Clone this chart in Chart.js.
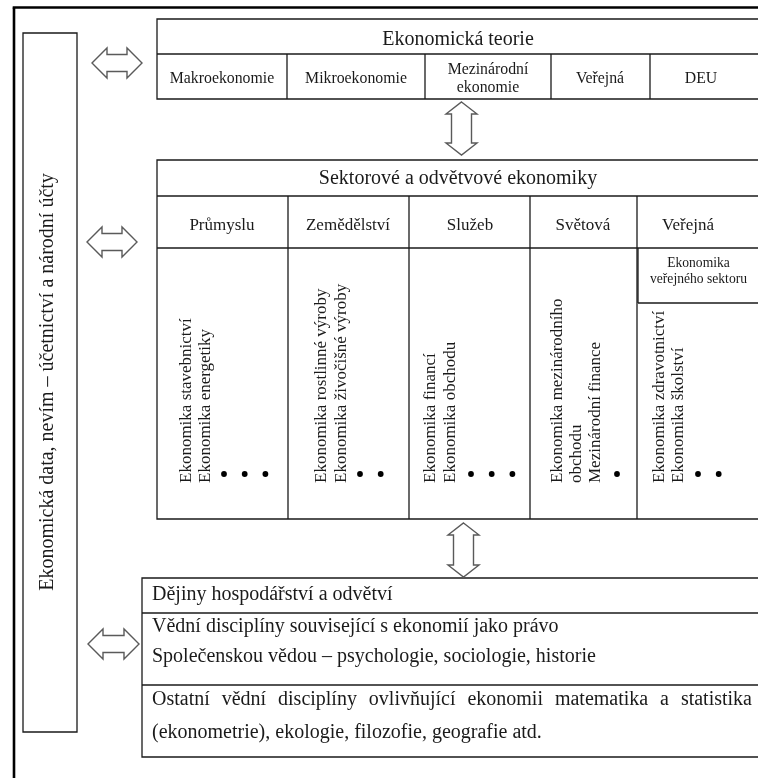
<!DOCTYPE html>
<html><head><meta charset="utf-8">
<script src="https://cdn.jsdelivr.net/npm/chart.js@4"></script>
<style>html,body{margin:0;padding:0;background:#fff;overflow:hidden}#c{display:block}</style>
</head><body>
<canvas id="c" width="758" height="778"></canvas>
<script>
// ---------- content (data) ----------
const leftLabel = "Ekonomická data, nevím – účetnictví a národní účty";
const theoryTitle = "Ekonomická teorie";
const theoryFields = [["Makroekonomie"], ["Mikroekonomie"], ["Mezinárodní", "ekonomie"], ["Veřejná"], ["DEU"]];
const sectorTitle = "Sektorové a odvětvové ekonomiky";
const sectorFields = ["Průmyslu", "Zemědělství", "Služeb", "Světová", "Veřejná"];
const sectorItems = [
  ["Ekonomika stavebnictví", "Ekonomika energetiky"],
  ["Ekonomika rostlinné výroby", "Ekonomika živočišné výroby"],
  ["Ekonomika financí", "Ekonomika obchodu"],
  ["Ekonomika mezinárodního", "obchodu", "Mezinárodní finance"],
  ["Ekonomika zdravotnictví", "Ekonomika školství"]
];
const sectorMoreDots = [3, 2, 3, 1, 2];
const publicSubBox = ["Ekonomika", "veřejného sektoru"];
const relatedRows = [
  ["Dějiny hospodářství a odvětví"],
  ["Vědní disciplíny související s ekonomií jako právo", "Společenskou vědou – psychologie, sociologie, historie"],
  ["Ostatní vědní disciplíny ovlivňující ekonomii matematika a statistika", "(ekonometrie), ekologie, filozofie, geografie atd."]
];
const justifiedLines = ["Ostatní vědní disciplíny ovlivňující ekonomii matematika a statistika"];

// ---------- layout (positions in diagram units) ----------
const LAYOUT = {
  frame: { x: 14, y: 7.5 },
  leftBox: { x: 23, y: 33, r: 77, b: 732, baseX: 52.5, midY: 382 },
  theory: { x: 157, y: 19, r: 765, titleB: 54, b: 99, titleBase: 45,
            cols: [157, 287, 425, 551, 650], labelX: [222, 356, 488, 600, 701],
            labelBase: [[83.3], [83.3], [73.5, 91.5], [83.3], [83.3]] },
  sector: { x: 157, y: 160, r: 765, titleB: 196, headB: 248, b: 519, titleBase: 183.5,
            cols: [157, 288, 409, 530, 637], labelX: [222, 348, 470, 583, 688], labelBase: 229.5,
            itemBase: [[190.5, 210], [326, 346], [435, 455], [562, 581, 600], [664, 683]], itemStart: 483,
            dotX0: [224, 360, 471, 617, 698], dotStep: 20.7, dotY: 474 },
  sub: { x: 638, y: 248, r: 765, b: 303, cx: 698.5, base: [266.5, 283] },
  related: { x: 142, y: 578, r: 765, b: 757, dividers: [613, 685], textX: 152, justifyR: 752,
             base: [[599.5], [632, 661.5], [705, 737.5]] },
  hArrows: [{ x1: 92, x2: 142, cy: 63 }, { x1: 87, x2: 137, cy: 242 }, { x1: 88, x2: 139, cy: 644 }],
  vArrows: [{ cx: 461.5, y1: 102, y2: 155 }, { cx: 463.5, y1: 523, y2: 577 }]
};
const SERIF = '"Liberation Serif", "Times New Roman", serif';
const INK = '#1a1a1a';

// bullet points built from content counts + layout
const dotPoints = [];
sectorMoreDots.forEach((n, c) => {
  for (let i = 0; i < n; i++) dotPoints.push({ x: LAYOUT.sector.dotX0[c] + i * LAYOUT.sector.dotStep, y: LAYOUT.sector.dotY });
});

const diagramPlugin = {
  id: 'diagram',
  beforeDatasetsDraw(chart) {
    const ctx = chart.ctx;
    const xs = chart.scales.x, ys = chart.scales.y;
    const px = v => xs.getPixelForValue(v), py = v => ys.getPixelForValue(v);
    const line = (x1, y1, x2, y2, w, col) => {
      ctx.beginPath(); ctx.lineWidth = w; ctx.strokeStyle = col || INK;
      ctx.moveTo(px(x1), py(y1)); ctx.lineTo(px(x2), py(y2)); ctx.stroke();
    };
    const rect = (x, y, r, b, w) => {
      ctx.beginPath(); ctx.lineWidth = w; ctx.strokeStyle = INK;
      ctx.rect(px(x), py(y), px(r) - px(x), py(b) - py(y)); ctx.stroke();
    };
    const text = (t, x, y, size, align) => {
      ctx.font = size + 'px ' + SERIF; ctx.fillStyle = INK;
      ctx.textAlign = align || 'center'; ctx.textBaseline = 'alphabetic';
      ctx.fillText(t, px(x), py(y));
    };
    const vtext = (t, x, y, size, align) => {
      ctx.save(); ctx.translate(px(x), py(y)); ctx.rotate(-Math.PI / 2);
      ctx.font = size + 'px ' + SERIF; ctx.fillStyle = INK;
      ctx.textAlign = align; ctx.textBaseline = 'alphabetic';
      ctx.fillText(t, 0, 0); ctx.restore();
    };
    ctx.save();
    // outer frame
    const F = LAYOUT.frame;
    line(F.x, F.y, F.x, 800, 2.6, '#000');
    line(F.x - 1.3, F.y, 800, F.y, 2.6, '#000');

    // left box
    const LB = LAYOUT.leftBox;
    rect(LB.x, LB.y, LB.r, LB.b, 1.3);
    vtext(leftLabel, LB.baseX, LB.midY, 20, 'center');

    // theory box
    const T = LAYOUT.theory;
    rect(T.x, T.y, T.r, T.b, 1.3);
    line(T.x, T.titleB, T.r, T.titleB, 1.3);
    T.cols.slice(1).forEach(c => line(c, T.titleB, c, T.b, 1.3));
    text(theoryTitle, (T.x + 759) / 2, T.titleBase, 20);
    theoryFields.forEach((lines, i) => lines.forEach((t, j) => text(t, T.labelX[i], T.labelBase[i][j], 15.8)));

    // sector box
    const S = LAYOUT.sector;
    rect(S.x, S.y, S.r, S.b, 1.3);
    line(S.x, S.titleB, S.r, S.titleB, 1.3);
    line(S.x, S.headB, S.r, S.headB, 1.3);
    S.cols.slice(1).forEach(c => line(c, S.titleB, c, S.b, 1.3));
    text(sectorTitle, (S.x + 759) / 2, S.titleBase, 20);
    sectorFields.forEach((t, i) => text(t, S.labelX[i], S.labelBase, 17));
    sectorItems.forEach((items, c) => items.forEach((t, j) => vtext(t, S.itemBase[c][j], S.itemStart, 17, 'left')));

    // public sub box
    const SB = LAYOUT.sub;
    line(SB.x, SB.y, SB.x, SB.b, 1.3);
    line(SB.x, SB.b, SB.r, SB.b, 1.3);
    publicSubBox.forEach((t, j) => text(t, SB.cx, SB.base[j], 13.6));

    // related box
    const R = LAYOUT.related;
    rect(R.x, R.y, R.r, R.b, 1.3);
    R.dividers.forEach(d => line(R.x, d, R.r, d, 1.3));
    ctx.font = '20px ' + SERIF;
    relatedRows.forEach((lines, i) => lines.forEach((t, j) => {
      const y = R.base[i][j];
      if (justifiedLines.includes(t)) {
        const words = t.split(' ');
        const ws = words.map(w => ctx.measureText(w).width);
        const total = ws.reduce((a, b) => a + b, 0);
        const span = px(R.justifyR) - px(R.textX);
        const gap = (span - total) / (words.length - 1);
        let xx = px(R.textX);
        ctx.fillStyle = INK; ctx.textAlign = 'left'; ctx.textBaseline = 'alphabetic';
        words.forEach((w, k) => { ctx.fillText(w, xx, py(y)); xx += ws[k] + gap; });
      } else {
        text(t, R.textX, y, 20, 'left');
      }
    }));

    // double arrows (outlined)
    ctx.lineWidth = 1.4; ctx.strokeStyle = '#5a5a5a'; ctx.fillStyle = '#fff'; ctx.lineJoin = 'miter';
    LAYOUT.hArrows.forEach(a => {
      const hl = 15, hh = 15, sh = 8.5;
      const pts = [[a.x1, a.cy], [a.x1 + hl, a.cy - hh], [a.x1 + hl, a.cy - sh], [a.x2 - hl, a.cy - sh], [a.x2 - hl, a.cy - hh],
        [a.x2, a.cy], [a.x2 - hl, a.cy + hh], [a.x2 - hl, a.cy + sh], [a.x1 + hl, a.cy + sh], [a.x1 + hl, a.cy + hh]];
      ctx.beginPath(); pts.forEach((p, k) => k ? ctx.lineTo(px(p[0]), py(p[1])) : ctx.moveTo(px(p[0]), py(p[1])));
      ctx.closePath(); ctx.fill(); ctx.stroke();
    });
    LAYOUT.vArrows.forEach(a => {
      const hl = 12, hh = 15.5, sh = 10;
      const pts = [[a.cx, a.y1], [a.cx + hh, a.y1 + hl], [a.cx + sh, a.y1 + hl], [a.cx + sh, a.y2 - hl], [a.cx + hh, a.y2 - hl],
        [a.cx, a.y2], [a.cx - hh, a.y2 - hl], [a.cx - sh, a.y2 - hl], [a.cx - sh, a.y1 + hl], [a.cx - hh, a.y1 + hl]];
      ctx.beginPath(); pts.forEach((p, k) => k ? ctx.lineTo(px(p[0]), py(p[1])) : ctx.moveTo(px(p[0]), py(p[1])));
      ctx.closePath(); ctx.fill(); ctx.stroke();
    });
    ctx.restore();
  }
};

new Chart(document.getElementById('c'), {
  type: 'scatter',
  data: { datasets: [{ data: dotPoints, pointRadius: 2.9, pointHoverRadius: 2.9, pointBackgroundColor: '#000', pointBorderWidth: 0, showLine: false, clip: false }] },
  options: {
    responsive: false, animation: false, devicePixelRatio: 1, events: [],
    layout: { padding: 0, autoPadding: false },
    plugins: { legend: { display: false }, tooltip: { enabled: false } },
    scales: {
      x: { type: 'linear', min: 0, max: 758, display: false },
      y: { type: 'linear', min: 0, max: 778, reverse: true, display: false }
    }
  },
  plugins: [diagramPlugin]
});
</script>
</body></html>
